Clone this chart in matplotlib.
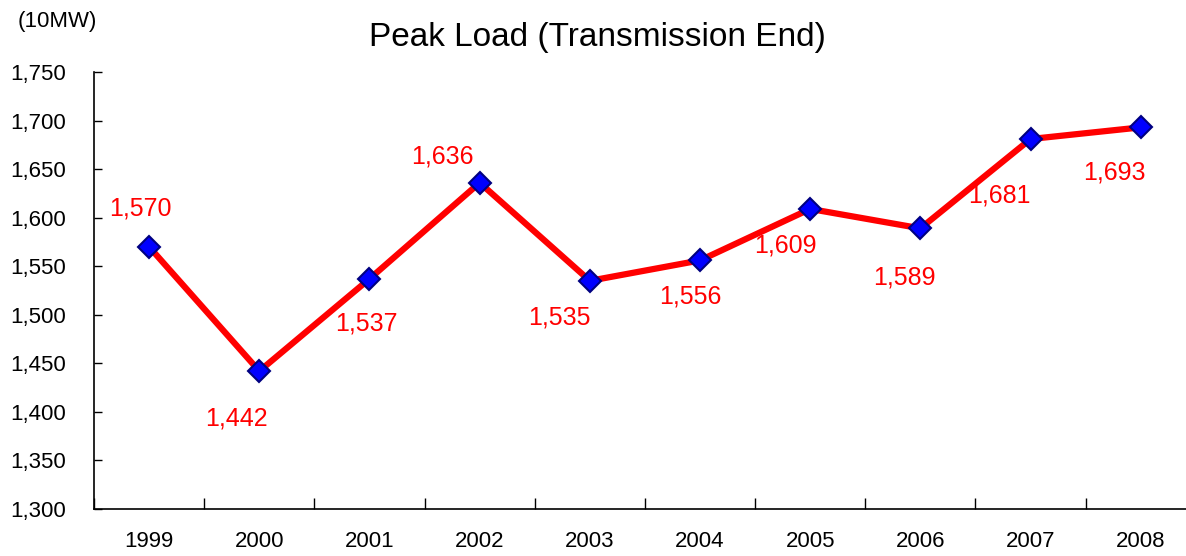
import numpy as np
import matplotlib.pyplot as plt
from matplotlib.ticker import FuncFormatter, FixedLocator

plt.rcParams['font.family'] = ['Liberation Sans', 'DejaVu Sans']

years = ['1999', '2000', '2001', '2002', '2003', '2004', '2005', '2006', '2007', '2008']
peak_load = [1570, 1442, 1537, 1636, 1535, 1556, 1609, 1589, 1681, 1693]

# where each value label sits relative to its marker (pixels)
label_offsets = [(-9, 38), (-23, -47), (-3, -45), (-37, 26), (-30, -37),
                 (-10, -36), (-25, -37), (-16, -49), (-31, -56), (-26, -45)]

fig = plt.figure(figsize=(11.86, 5.56), dpi=100)
ax = fig.add_axes([0.0793, 0.0845, 0.929, 0.786])

x = np.arange(len(years))
ax.plot(x, peak_load, color='#FF0000', lw=4.5, marker='D', ms=11.5,
        markerfacecolor='#0000FF', markeredgecolor='#000080', markeredgewidth=1.5,
        zorder=3)

for xi, v, off in zip(x, peak_load, label_offsets):
    ax.annotate(f'{v:,}', (xi, v), xytext=off, textcoords='offset pixels',
                ha='center', va='center', fontsize=18, color='#FF0000')

ax.set_xlim(-0.5, len(years) - 0.5)
ax.set_ylim(1300, 1750)
ax.set_yticks(np.arange(1300, 1751, 50))
ax.yaxis.set_major_formatter(FuncFormatter(lambda v, p: f'{int(v):,}'))

ax.xaxis.set_major_locator(FixedLocator(np.arange(-0.5, len(years), 1)))
ax.xaxis.set_minor_locator(FixedLocator(x))
ax.set_xticklabels([])
ax.set_xticklabels(years, minor=True)
ax.tick_params(axis='x', which='major', direction='in', length=8, width=1)
ax.tick_params(axis='x', which='minor', length=0, pad=16, labelsize=16)
ax.tick_params(axis='y', direction='in', length=6, width=1, pad=20, labelsize=16)

for s in ['top', 'right']:
    ax.spines[s].set_visible(False)
for s in ['left', 'bottom']:
    ax.spines[s].set_linewidth(1.2)

fig.text(0.504, 0.932, 'Peak Load (Transmission End)', ha='center', va='center', fontsize=24)
fig.text(0.048, 0.962, '(10MW)', ha='center', va='center', fontsize=16)

fig.savefig('out.png', dpi=100, facecolor='w')
